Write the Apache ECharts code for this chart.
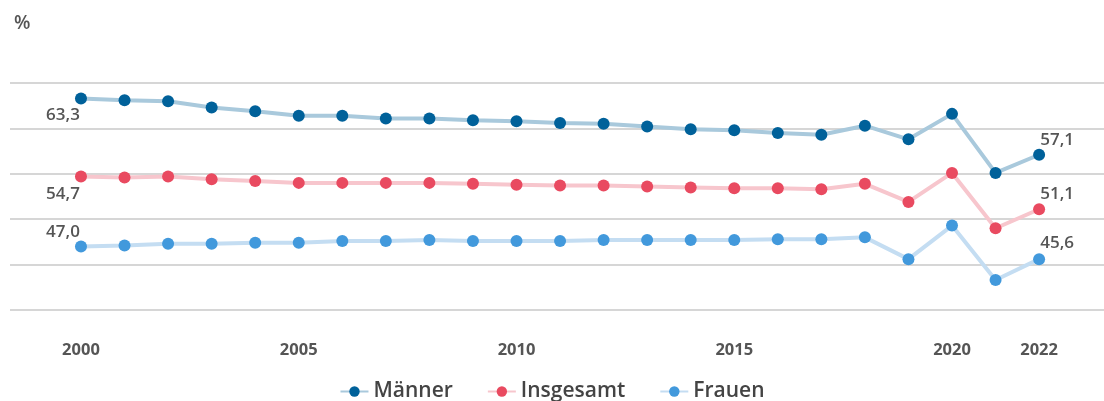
<!DOCTYPE html>
<html>
<head>
<meta charset="utf-8">
<script src="https://cdn.jsdelivr.net/npm/echarts@6/dist/echarts.min.js"></script>
<style>
html,body{margin:0;padding:0;background:#fff;}
#chart{width:1104px;height:401px;}
</style>
</head>
<body>
<div id="chart"></div>
<script>
const years = [2000,2001,2002,2003,2004,2005,2006,2007,2008,2009,2010,2011,2012,2013,2014,2015,2016,2017,2018,2019,2020,2021,2022];
const maenner = [63.3,63.1,63.0,62.3,61.9,61.4,61.4,61.1,61.1,60.9,60.8,60.6,60.5,60.2,59.9,59.8,59.5,59.3,60.3,58.8,61.6,55.1,57.1];
const insgesamt = [54.7,54.6,54.7,54.4,54.2,54.0,54.0,54.0,54.0,53.9,53.8,53.7,53.7,53.6,53.5,53.4,53.4,53.3,53.9,51.9,55.1,49.0,51.1];
const frauen = [47.0,47.1,47.3,47.3,47.4,47.4,47.6,47.6,47.7,47.6,47.6,47.6,47.7,47.7,47.7,47.7,47.8,47.8,48.0,45.6,49.3,43.3,45.6];
const xTickLabels = [2000,2005,2010,2015,2020,2022];
const seriesNames = ['Männer','Insgesamt','Frauen'];

const FONT = '"Open Sans", "Noto Sans", sans-serif';
const fmt = v => v.toFixed(1).replace('.', ',');

function build(values, firstLabel, lastLabel) {
  return values.map((v, i) => {
    const d = { value: [years[i], v] };
    if (i === 0) d.label = Object.assign({ show: true, formatter: () => fmt(v) }, firstLabel);
    if (i === values.length - 1) d.label = Object.assign({ show: true, formatter: () => fmt(v) }, lastLabel);
    return d;
  });
}

const labelStyle = { fontFamily: FONT, fontSize: 17, fontWeight: 600, color: '#555' };

function mkSeries(name, values, lineColor, dotColor, firstLabel, lastLabel) {
  return {
    name, type: 'line',
    data: build(values, firstLabel, lastLabel),
    symbol: 'circle', symbolSize: 12,
    lineStyle: { color: lineColor, width: 4 },
    itemStyle: { color: dotColor, borderWidth: 0 },
    label: Object.assign({ show: false }, labelStyle),
    emphasis: { disabled: true },
    z: 3
  };
}

const chart = echarts.init(document.getElementById('chart'), null, { renderer: 'canvas' });
chart.setOption({
  animation: false,
  textStyle: { fontFamily: FONT },
  title: { text: '%', left: 9, top: 9, textStyle: { fontFamily: FONT, fontSize: 19, fontWeight: 600, color: '#555' } },
  grid: { left: 10, right: 0, top: 83, bottom: 91, containLabel: false },
  xAxis: {
    type: 'value', min: 1998.37, max: 2023.49,
    axisLine: { show: false }, axisTick: { show: false }, splitLine: { show: false },
    axisLabel: { customValues: xTickLabels, formatter: v => String(v), margin: 32,
      fontFamily: FONT, fontSize: 16.5, fontWeight: 'bold', color: '#555' }
  },
  yAxis: {
    type: 'value', min: 40, max: 65, interval: 5,
    axisLine: { show: false }, axisTick: { show: false }, axisLabel: { show: false },
    splitLine: { lineStyle: { color: '#c8c8c8', width: 1.5 } }
  },
  legend: {
    data: seriesNames, top: 376, left: 'center', itemWidth: 28, itemHeight: 13, itemGap: 34,
    textStyle: { fontFamily: FONT, fontSize: 21, fontWeight: 600, color: '#444' }
  },
  series: [
    mkSeries('Männer', maenner, '#a9c9dc', '#00619a',
      { position: 'bottom', offset: [-18, -3] }, { position: 'top', offset: [18, 5] }),
    mkSeries('Insgesamt', insgesamt, '#f7c6cd', '#e94a60',
      { position: 'bottom', offset: [-18, -2] }, { position: 'top', offset: [18, 4] }),
    mkSeries('Frauen', frauen, '#c4ddf2', '#4299dc',
      { position: 'top', offset: [-18, 5] }, { position: 'top', offset: [18, 4] })
  ]
});
</script>
</body>
</html>
